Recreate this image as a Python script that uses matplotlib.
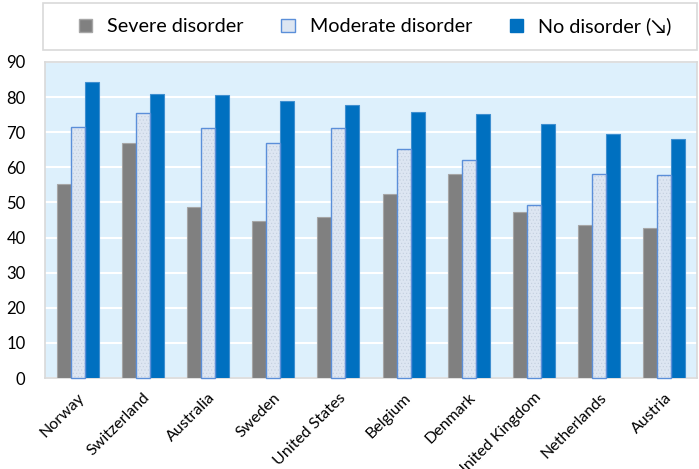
import matplotlib.pyplot as plt
from matplotlib.patches import Patch, Rectangle
import numpy as np

plt.rcParams['font.family'] = ['Lato', 'DejaVu Sans']

countries = ['Norway', 'Switzerland', 'Australia', 'Sweden', 'United States',
             'Belgium', 'Denmark', 'United Kingdom', 'Netherlands', 'Austria']
severe = [55.3, 67.0, 48.7, 44.7, 45.9, 52.4, 58.1, 47.3, 43.6, 42.7]
moderate = [71.5, 75.5, 71.2, 67.0, 71.2, 65.2, 62.1, 49.3, 58.1, 57.8]
no_disorder = [84.3, 81.0, 80.6, 78.9, 77.8, 75.8, 75.2, 72.4, 69.5, 68.1]
yticks = list(range(0, 91, 10))

W, H = 699, 469
fig = plt.figure(figsize=(W / 100, H / 100), dpi=100)
ax = fig.add_axes([45 / W, 1 - 378 / H, 652 / W, 316 / H])
ax.set_facecolor('#ddf0fc')

x = np.arange(len(countries))
w = 0.215
ax.bar(x - w, severe, w, color='#808080', edgecolor='#a6a6a6', linewidth=0.8, zorder=3)
# moderate: dotted fill plus blue outline
plt.rcParams['hatch.linewidth'] = 0.4
ax.bar(x, moderate, w, color='#dde6f2', edgecolor='#c3cede', hatch='.....',
       linewidth=0, zorder=3)
ax.bar(x, moderate, w, color='none', edgecolor='#5b8fd9', linewidth=1.0, zorder=4,
       clip_on=False)
ax.bar(x + w, no_disorder, w, color='#0070c0', edgecolor='#3f8fd0', linewidth=0.8, zorder=3)

ax.set_xlim(-0.5, len(countries) - 0.5)
ax.set_ylim(0, 90)
ax.set_yticks(yticks)
ax.yaxis.grid(True, color='white', linewidth=1.5, zorder=1)
ax.set_axisbelow(True)
ax.tick_params(axis='y', length=0, labelsize=12, pad=14)
ax.tick_params(axis='x', length=0, labelsize=11.5, pad=9)
ax.set_xticks(x)
ax.set_xticklabels(countries, rotation=45, ha='right', rotation_mode='anchor')
for s in ax.spines.values():
    s.set_color('#d9d9d9')
    s.set_linewidth(1.2)

# legend box drawn by hand so it spans the width like the reference
fig.patches.append(Rectangle((43 / W, 1 - 50 / H), 654 / W, 47 / H,
                             transform=fig.transFigure, facecolor='white',
                             edgecolor='#d9d9d9', linewidth=1.2))
handles = [Patch(facecolor='#808080', edgecolor='#a6a6a6'),
           Patch(facecolor='#dde6f2', edgecolor='#5b8fd9'),
           Patch(facecolor='#0070c0', edgecolor='#0070c0')]
labels = ['Severe disorder', 'Moderate disorder', 'No disorder (\u2198)']
fig.legend(handles, labels, loc='center', ncol=3,
           bbox_to_anchor=(375 / W, 1 - 26.5 / H), frameon=False,
           fontsize=14.2, handlelength=0.7, handleheight=0.7,
           columnspacing=1.9, handletextpad=0.75)

fig.savefig('out.png', dpi=100)
